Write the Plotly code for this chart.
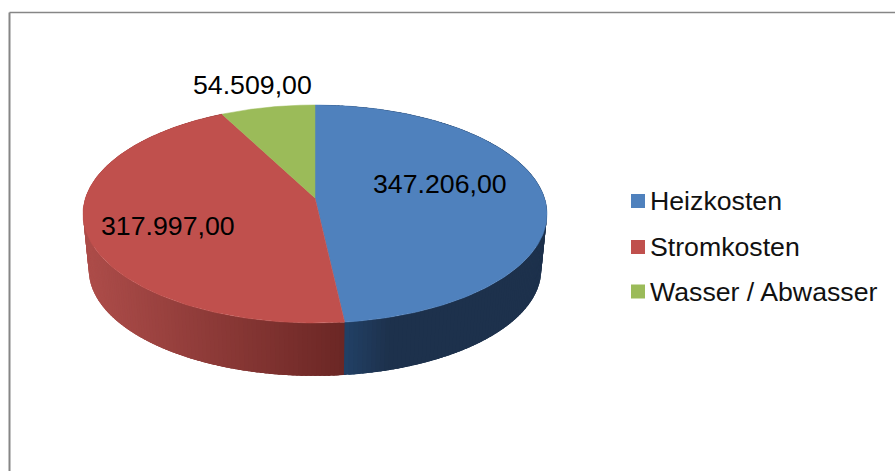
import numpy as np
import plotly.graph_objects as go

categories = ["Heizkosten", "Stromkosten", "Wasser / Abwasser"]
values = [347206.0, 317997.0, 54509.0]
value_labels = ["347.206,00", "317.997,00", "54.509,00"]
top_colors = ["#4F81BD", "#C0504D", "#9BBB59"]
# wall shades: colour at the seam side / colour at the far side of each visible wall
wall_near = [(34, 66, 104), (106, 38, 36)]
wall_far = [(29, 49, 76), (172, 76, 73)]

W, H = 895, 471
CX, CY = 315.0, 198.0             # pie vertex on the top face
A, B, K = 229.5, 106.65, -0.1468  # projective circle
DROP, SHRINK = 56.0, 0.975        # bottom face
TXT = "Liberation Sans, Arial, sans-serif"


def pt(theta_deg, scale=1.0, dy=0.0):
    t = np.radians(theta_deg)
    u = np.sin(t)
    v = -np.cos(t)          # v = +1 is the front (bottom of picture)
    d = 1 + K * v
    return CX + scale * A * u / d, CY + dy + scale * B * v / d


total = sum(values)
edges = np.concatenate([[0.0], np.cumsum(values) / total * 360.0])

fig = go.Figure()

# side walls: narrow overlapping pieces so the shade runs smoothly.
# The red wall is drawn first and runs slightly under the blue one, so no gap shows at the seam.
seam_x, _ = pt(edges[1])
for i in (1, 0):
    a0, a1 = edges[i], edges[i + 1]
    n = max(int((a1 - a0) / 1.0), 2)
    steps = np.linspace(a0, a1, n + 1)
    order = range(n) if i == 1 else range(n - 1, -1, -1)
    for j in order:
        if i == 0:
            start, end = max(steps[j] - 1.5, a0), steps[j + 1]
        else:
            start, end = steps[j] - (0.6 if j == 0 else 0.0), min(steps[j + 1] + 1.5, a1)
        ring = np.linspace(start, end, 5)
        xt, yt = pt(ring)
        xb, yb = pt(ring[::-1], SHRINK, DROP)
        xm = float(np.mean(xt))
        far_x = 541.0 if i == 0 else 88.0
        f = min(max((xm - seam_x) / (far_x - seam_x), 0.0), 1.0)
        if i == 0:
            f = min(f * 4.0, 1.0)
        c = tuple(int(round(wall_near[i][k] + (wall_far[i][k] - wall_near[i][k]) * f)) for k in range(3))
        fig.add_trace(go.Scatter(
            x=np.concatenate([xt, xb]), y=np.concatenate([yt, yb]),
            mode="none", fill="toself", fillcolor="rgb(%d,%d,%d)" % c,
            showlegend=False, hoverinfo="skip"))

# top faces
for i, name in enumerate(categories):
    ring = np.linspace(edges[i], edges[i + 1], 160)
    xr, yr = pt(ring)
    fig.add_trace(go.Scatter(
        x=np.concatenate([[CX], xr, [CX]]), y=np.concatenate([[CY], yr, [CY]]),
        mode="lines", fill="toself", fillcolor=top_colors[i],
        line=dict(color=top_colors[i], width=0.5), name=name,
        showlegend=False, hoverinfo="skip"))

# legend keys
legend_x = [638, 638, 638]
legend_y = [201, 247, 291.5]
for i, name in enumerate(categories):
    fig.add_trace(go.Scatter(
        x=[legend_x[i]], y=[legend_y[i]], mode="markers",
        marker=dict(symbol="square", size=14, color=top_colors[i], line=dict(width=0)),
        showlegend=False, hoverinfo="skip"))
    fig.add_annotation(x=648, y=legend_y[i], text=name, showarrow=False, xanchor="left",
                       yanchor="middle", font=dict(family=TXT, size=26.7, color="#111111"))

# data labels
label_x = [440, 168, 252.5]
label_y = [184, 226, 85]
for i in range(3):
    fig.add_annotation(x=label_x[i], y=label_y[i], text=value_labels[i], showarrow=False,
                       xanchor="center", yanchor="middle",
                       font=dict(family=TXT, size=26.7, color="#000000"))

# chart frame: only the left and top sides are in view
fig.add_shape(type="line", x0=9.5, x1=9.5, y0=12.5, y1=471, line=dict(color="#868686", width=2))
fig.add_shape(type="line", x0=9.5, x1=895, y0=12.5, y1=12.5, line=dict(color="#868686", width=1.5))

fig.update_layout(
    width=W, height=H, margin=dict(l=0, r=0, t=0, b=0),
    paper_bgcolor="white", plot_bgcolor="white", showlegend=False,
    xaxis=dict(range=[0, W], visible=False, fixedrange=True),
    yaxis=dict(range=[H, 0], visible=False, fixedrange=True),
)
fig.write_html("out.html", include_plotlyjs=True, config={"displayModeBar": False},
               post_script="document.body.style.margin='0';document.body.style.overflow='hidden';")
